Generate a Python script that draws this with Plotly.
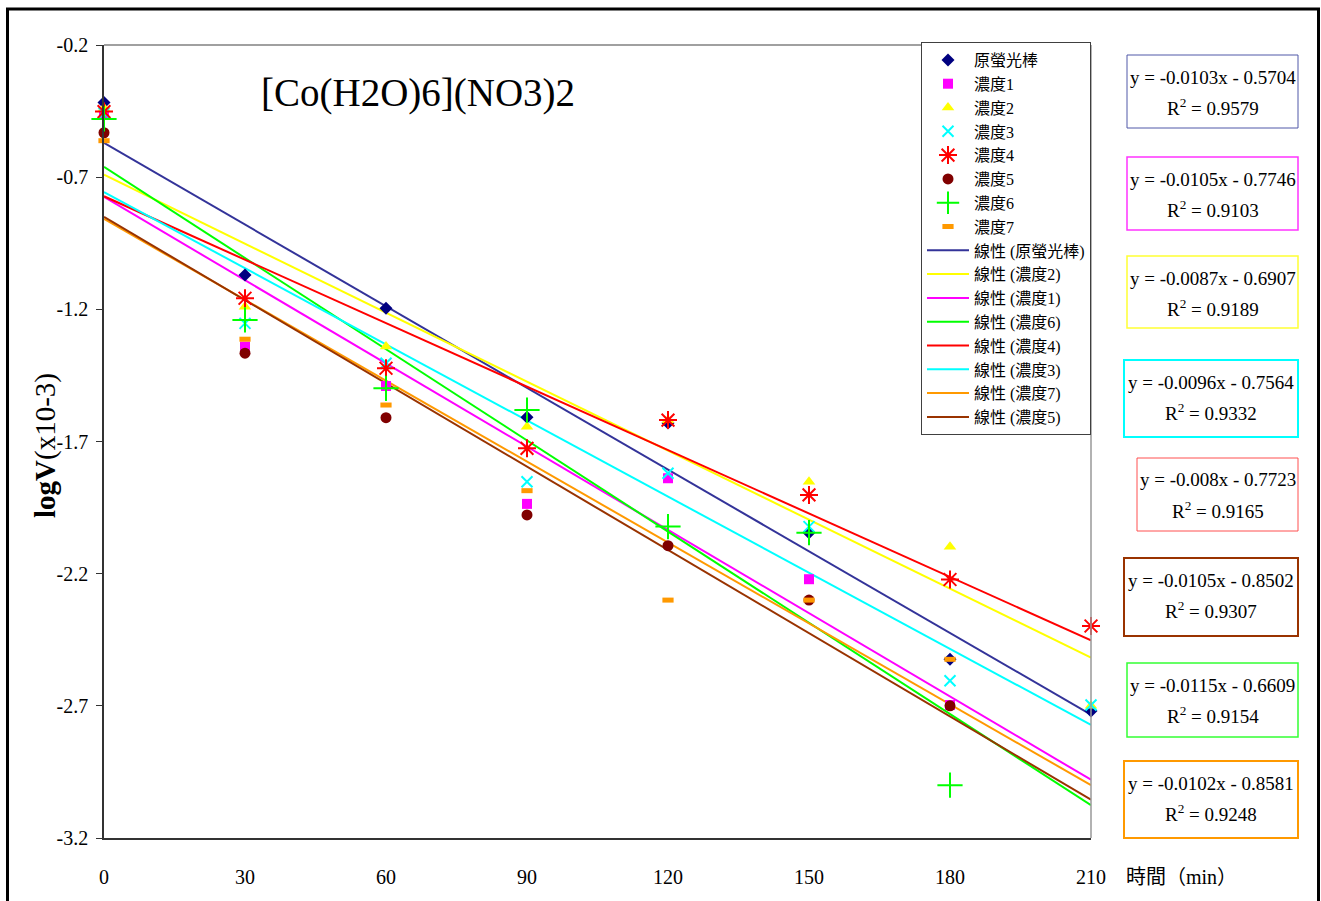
import plotly.graph_objects as go

# ---------------- data ----------------
times = [0, 30, 60, 90, 120, 150, 180, 210]
times7 = [0, 30, 60, 90, 120, 150, 180]

orig = [-0.418, -1.070, -1.196, -1.608, -1.630, -2.045, -2.524, -2.720]
conc1 = [-0.461, -1.341, -1.490, -1.936, -1.839, -2.221, -2.697]
conc2 = [-0.438, -1.190, -1.341, -1.644, -1.620, -1.852, -2.098, -2.700]
conc3 = [-0.457, -1.253, -1.404, -1.852, -1.820, -2.022, -2.605, -2.697]
conc4 = [-0.452, -1.158, -1.423, -1.726, -1.619, -1.902, -2.222, -2.398]
conc5 = [-0.532, -1.366, -1.610, -1.978, -2.094, -2.300, -2.700]
conc6 = [-0.480, -1.240, -1.499, -1.581, -2.022, -2.045, -3.000]
conc7 = [-0.562, -1.313, -1.562, -1.886, -2.300, -2.300, -2.524]

series_names = ["原螢光棒", "濃度1", "濃度2", "濃度3", "濃度4", "濃度5", "濃度6", "濃度7"]
series_x = [times, times7, times, times, times, times7, times7, times7]
series_y = [orig, conc1, conc2, conc3, conc4, conc5, conc6, conc7]

# trendline coefficients (y = slope*x + intercept) and R^2
slopes = [-0.0103, -0.0105, -0.0087, -0.0096, -0.008, -0.0105, -0.0115, -0.0102]
intercepts = [-0.5704, -0.7746, -0.6907, -0.7564, -0.7723, -0.8502, -0.6609, -0.8581]
r2 = [0.9579, 0.9103, 0.9189, 0.9332, 0.9165, 0.9307, 0.9154, 0.9248]
slope_txt = ["-0.0103", "-0.0105", "-0.0087", "-0.0096", "-0.008", "-0.0105", "-0.0115", "-0.0102"]
icpt_txt = ["0.5704", "0.7746", "0.6907", "0.7564", "0.7723", "0.8502", "0.6609", "0.8581"]
trend_x = [0, 210]

x_ticks = [0, 30, 60, 90, 120, 150, 180, 210]
y_ticks = [-0.2, -0.7, -1.2, -1.7, -2.2, -2.7, -3.2]
y_ticktext = ["-0.2", "-0.7", "-1.2", "-1.7", "-2.2", "-2.7", "-3.2"]

# ---------------- styles ----------------
FONT = "Liberation Serif, 'Noto Sans CJK TC', serif"
W, H = 1321, 901
ML, MR, MT, MB = 104, 230, 45, 63
PW, PH = W - ML - MR, H - MT - MB


def px2x(px):
    return (px - ML) / PW


def py2y(py):
    return (H - MB - py) / PH


marker_styles = [
    dict(symbol="diamond", size=10, color="#000080"),
    dict(symbol="square", size=10, color="#FF00FF"),
    dict(symbol="triangle-up", size=11, color="#FFFF00"),
    dict(symbol="x-thin-open", size=11, color="#00FFFF", line=dict(color="#00FFFF", width=2)),
    dict(symbol="asterisk-open", size=15, color="#FF0000", line=dict(color="#FF0000", width=2)),
    dict(symbol="circle", size=11, color="#800000"),
    dict(symbol="cross-thin-open", size=18, color="#00FF00", line=dict(color="#00FF00", width=2)),
    dict(symbol="line-ew-open", size=8, color="#FF9900", line=dict(color="#FF9900", width=5)),
]
line_colors = ["#333399", "#FF00FF", "#FFFF00", "#00FFFF", "#FF0000", "#993300", "#00FF00", "#FF9900"]
# legend order of the trendlines: 原螢光棒, 濃度2, 濃度1, 濃度6, 濃度4, 濃度3, 濃度7, 濃度5
trend_legend_order = [0, 2, 1, 6, 4, 3, 7, 5]

fig = go.Figure()

# trendlines first (drawn below markers)
for rank, i in enumerate(trend_legend_order):
    fig.add_trace(go.Scatter(
        x=trend_x,
        y=[slopes[i] * t + intercepts[i] for t in trend_x],
        mode="lines",
        line=dict(color=line_colors[i], width=2),
        name="線性 (" + series_names[i] + ")",
        legendrank=100 + rank,
        hoverinfo="skip",
    ))

for i in range(8):
    fig.add_trace(go.Scatter(
        x=series_x[i], y=series_y[i], mode="markers",
        marker=marker_styles[i], name=series_names[i],
        legendrank=i + 1, cliponaxis=False,
    ))

annotations = []
# title
annotations.append(dict(text="[Co(H2O)6](NO3)2", x=px2x(418), y=py2y(93), xref="paper", yref="paper",
                        showarrow=False, font=dict(size=39, family=FONT, color="black"),
                        xanchor="center", yanchor="middle"))
# y-axis title
annotations.append(dict(text="<b>logV</b>(x10-3)", x=px2x(45), y=py2y(446), xref="paper", yref="paper",
                        showarrow=False, textangle=-90, font=dict(size=29, family=FONT, color="black"),
                        xanchor="center", yanchor="middle"))
# x-axis title
annotations.append(dict(text="時間（min）", x=px2x(1124), y=py2y(877), xref="paper", yref="paper",
                        showarrow=False, font=dict(size=20, family=FONT, color="black"),
                        xanchor="left", yanchor="middle"))

# equation boxes (px): left, top, right, bottom
box_px = [
    (1127, 55, 1298, 128),
    (1127, 157, 1298, 230),
    (1127, 256, 1298, 328),
    (1124, 360, 1298, 437),
    (1137, 458, 1298, 531),
    (1124, 558, 1298, 636),
    (1127, 663, 1298, 737),
    (1124, 761, 1298, 838),
]
box_colors = ["#5058A8", "#FF33FF", "#FFFF33", "#00FFFF", "#FF5050", "#993300", "#33FF33", "#FF9900"]
box_widths = [1, 1.5, 1.5, 2, 1, 2, 1.5, 2]

shapes = []
for k in range(8):
    l, t, r, b = box_px[k]
    shapes.append(dict(type="rect", xref="paper", yref="paper",
                       x0=px2x(l), x1=px2x(r), y0=py2y(b), y1=py2y(t),
                       line=dict(color=box_colors[k], width=box_widths[k]), fillcolor="white", layer="above"))
    cx = (l + r) / 2
    annotations.append(dict(text="y = " + slope_txt[k] + "x - " + icpt_txt[k],
                            x=px2x(cx), y=py2y(t + 22), xref="paper", yref="paper", showarrow=False,
                            font=dict(size=19, family=FONT, color="black"), xanchor="center", yanchor="middle"))
    annotations.append(dict(text="R<sup>2</sup> = " + f"{r2[k]:.4f}",
                            x=px2x(cx), y=py2y(t + 52), xref="paper", yref="paper", showarrow=False,
                            font=dict(size=19, family=FONT, color="black"), xanchor="center", yanchor="middle"))

# plot area top/right border (gray)
shapes.append(dict(type="line", xref="paper", yref="paper", x0=0, x1=1, y0=1, y1=1,
                   line=dict(color="#808080", width=1.5)))
shapes.append(dict(type="line", xref="paper", yref="paper", x0=1, x1=1, y0=0, y1=1,
                   line=dict(color="#999999", width=1.5)))
# outer black frame
shapes.append(dict(type="rect", xref="paper", yref="paper",
                   x0=px2x(7.5), x1=px2x(1318.5), y0=py2y(960), y1=py2y(9),
                   line=dict(color="black", width=3), fillcolor="rgba(0,0,0,0)"))

fig.update_layout(
    width=W, height=H, autosize=False,
    margin=dict(l=ML, r=MR, t=MT, b=MB, pad=0, autoexpand=False),
    paper_bgcolor="white", plot_bgcolor="white",
    font=dict(family=FONT, color="black"),
    showlegend=True,
    legend=dict(x=1.0, y=py2y(42), xanchor="right", yanchor="top",
                bgcolor="white", bordercolor="#404040", borderwidth=1,
                font=dict(size=16, family=FONT, color="black"),
                itemwidth=42, traceorder="normal", tracegroupgap=0),
    annotations=annotations,
    shapes=shapes,
    xaxis=dict(range=[0, 210], tickvals=x_ticks, ticktext=[str(v) for v in x_ticks],
               showgrid=False, zeroline=False, showline=True, linecolor="#333333", linewidth=1.5,
               ticks="", tickfont=dict(size=20, family=FONT, color="black"), ticklabelstandoff=20,
               automargin=False),
    yaxis=dict(range=[-3.2, -0.2], tickvals=y_ticks, ticktext=y_ticktext,
               showgrid=False, zeroline=False, showline=True, linecolor="#333333", linewidth=1.5,
               ticks="outside", ticklen=6, tickcolor="#333333",
               tickfont=dict(size=20, family=FONT, color="black"), ticklabelstandoff=4,
               automargin=False),
)

fig.write_html("out.html")
